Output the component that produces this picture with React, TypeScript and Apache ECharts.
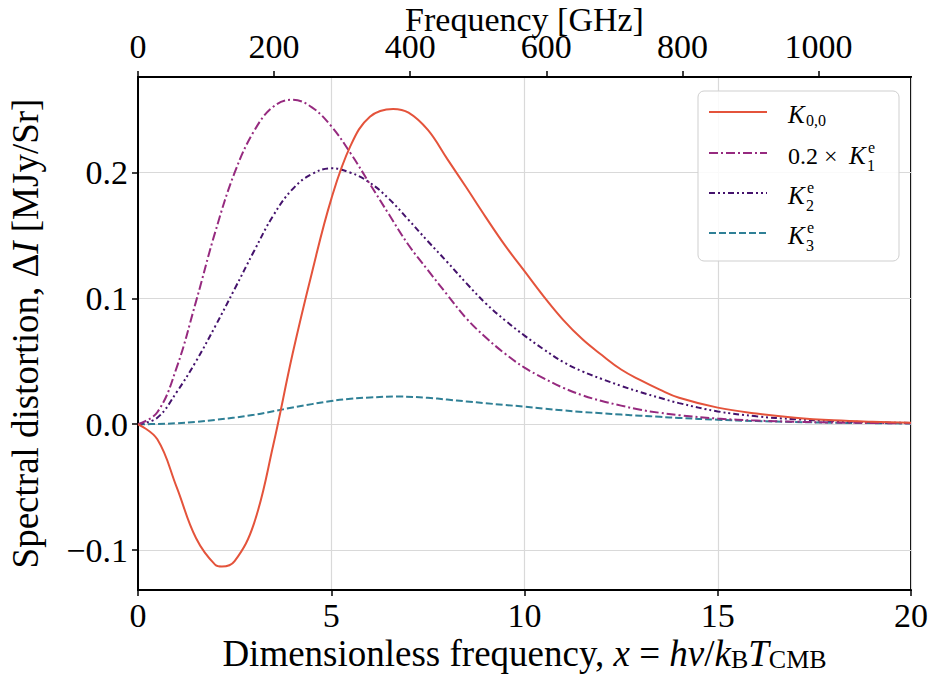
import React, { useEffect, useRef } from 'react';
import * as echarts from 'echarts';

// ---- data ----
const k00X = [0, 0.5, 1, 1.5, 2, 2.17, 2.5, 3, 3.5, 4, 4.5, 5, 5.5, 6, 6.6, 7, 7.5, 8, 8.5, 9, 9.5, 10, 10.5, 11, 11.5, 12, 12.5, 13, 13.5, 14, 15, 16, 17, 18, 19, 20];
const k00Y = [0, -0.012, -0.05, -0.0905, -0.1118, -0.1132, -0.1088, -0.079, -0.0165, 0.056, 0.1205, 0.179, 0.2215, 0.2445, 0.2507, 0.2478, 0.234, 0.211, 0.188, 0.1645, 0.142, 0.1217, 0.1015, 0.083, 0.0675, 0.055, 0.0435, 0.035, 0.0275, 0.021, 0.0132, 0.0085, 0.0052, 0.0031, 0.0019, 0.0012];

const k1X = [0, 0.5, 1, 1.5, 2, 2.5, 3, 3.5, 4, 4.5, 5, 5.5, 6, 6.5, 7, 7.5, 8, 8.5, 9, 9.5, 10, 10.5, 11, 11.5, 12, 12.5, 13, 13.5, 14, 15, 16, 17, 18, 19, 20];
const k1Y = [0, 0.0095, 0.045, 0.0975, 0.153, 0.2, 0.233, 0.2525, 0.258, 0.252, 0.237, 0.2155, 0.191, 0.1665, 0.1425, 0.1225, 0.103, 0.084, 0.069, 0.056, 0.045, 0.0365, 0.029, 0.023, 0.0185, 0.0148, 0.0115, 0.0091, 0.0072, 0.0045, 0.0029, 0.002, 0.0014, 0.001, 0.0007];

const k2X = [0, 0.5, 1, 1.5, 2, 2.5, 3, 3.5, 4, 4.5, 5, 5.5, 6, 6.5, 7, 7.5, 8, 8.5, 9, 9.5, 10, 10.5, 11, 11.5, 12, 12.5, 13, 13.5, 14, 15, 16, 17, 18, 19, 20];
const k2Y = [0, 0.0052, 0.0255, 0.05, 0.078, 0.1075, 0.1375, 0.166, 0.187, 0.199, 0.2035, 0.2, 0.192, 0.179, 0.1625, 0.1455, 0.129, 0.112, 0.096, 0.0825, 0.0705, 0.0595, 0.0495, 0.042, 0.036, 0.0305, 0.0255, 0.021, 0.0168, 0.0102, 0.0063, 0.004, 0.0025, 0.0016, 0.001];

const k3X = [0, 0.5, 1, 1.5, 2, 2.5, 3, 3.5, 4, 4.5, 5, 5.5, 6, 6.7, 7.5, 8, 8.5, 9, 9.5, 10, 10.5, 11, 11.5, 12, 12.5, 13, 13.5, 14, 15, 16, 17, 18, 19, 20];
const k3Y = [0, 0.0002, 0.0008, 0.0019, 0.0035, 0.0053, 0.0075, 0.0103, 0.0133, 0.016, 0.0185, 0.0202, 0.0213, 0.022, 0.021, 0.0196, 0.0181, 0.0167, 0.0153, 0.014, 0.0124, 0.011, 0.0098, 0.0087, 0.0077, 0.0068, 0.0059, 0.005, 0.0036, 0.0025, 0.0018, 0.0012, 0.0009, 0.0006];

const xTicks = [0, 5, 10, 15, 20];
const yTicks = [-0.1, 0, 0.1, 0.2];
const freqTicks = [0, 200, 400, 600, 800, 1000];
const GHZ_PER_X = 56.79;

const seriesNames = ['K_{0,0}', '0.2 × K_1^e', 'K_2^e', 'K_3^e'];
const legendPre = ['', '0.2 ×', '', ''];
const legendSub = ['0,0', '1', '2', '3'];
const legendSup = ['', 'e', 'e', 'e'];

const FONT = '"Liberation Serif", "Times New Roman", serif';
const COLORS = ['#e4533b', '#962a7f', '#44126c', '#2f8096'];
const DASHES: any[] = ['solid', [9, 3, 2, 3], [6, 3, 2, 3, 2, 3], [7, 3]];

const zip = (xs: number[], ys: number[]) => xs.map((x, i) => [x, ys[i]]);

export default function App() {
  const ref = useRef<HTMLDivElement>(null);
  useEffect(() => {
    const chart = echarts.init(ref.current!, null, { renderer: 'svg' });
    const datasets = [zip(k00X, k00Y), zip(k1X, k1Y), zip(k2X, k2Y), zip(k3X, k3Y)];

    const rowY = [112, 153, 193, 233];
    const legendX0 = 709;
    const legendX1 = 767;
    const textX = 788;
    const legendGraphics: any[] = [
      {
        type: 'rect',
        shape: { x: 698, y: 91, width: 201, height: 170, r: 6 },
        style: { fill: 'rgba(255,255,255,0.85)', stroke: '#cfcfcf', lineWidth: 1 },
        z: 100,
      },
    ];
    rowY.forEach((yc, i) => {
      legendGraphics.push({
        type: 'line',
        shape: { x1: legendX0, y1: yc, x2: legendX1, y2: yc },
        style: {
          stroke: COLORS[i],
          lineWidth: 2,
          lineDash: DASHES[i] === 'solid' ? null : DASHES[i],
        },
        z: 101,
      });
      let kx = textX;
      if (legendPre[i]) {
        legendGraphics.push({
          type: 'text',
          x: textX,
          y: yc + 2.5,
          style: { text: legendPre[i], fontSize: 24, fontFamily: FONT, fill: '#000', verticalAlign: 'middle', align: 'left' },
          z: 101,
        });
        kx = 849;
      }
      legendGraphics.push({
        type: 'text',
        x: kx,
        y: yc + 2.5,
        style: { text: 'K', fontSize: 25, fontStyle: 'italic', fontFamily: FONT, fill: '#000', verticalAlign: 'middle', align: 'left' },
        z: 101,
      });
      if (legendSup[i]) {
        legendGraphics.push({
          type: 'text',
          x: kx + 19,
          y: yc - 6,
          style: { text: legendSup[i], fontSize: 16, fontFamily: FONT, fill: '#000', verticalAlign: 'middle', align: 'left' },
          z: 101,
        });
      }
      legendGraphics.push({
        type: 'text',
        x: kx + 18,
        y: legendSup[i] ? yc + 12.5 : yc + 8.5,
        style: { text: legendSub[i], fontSize: 16, fontFamily: FONT, fill: '#000', verticalAlign: 'middle', align: 'left' },
        z: 101,
      });
    });

    const richMain = { fontSize: 37, fontFamily: FONT, color: '#000', lineHeight: 42, verticalAlign: 'bottom' };
    const richIt = { ...richMain, fontStyle: 'italic' };
    const richSub = { fontSize: 26, fontFamily: FONT, color: '#000', lineHeight: 26, verticalAlign: 'bottom' };

    const option: any = {
      animation: false,
      backgroundColor: '#fff',
      grid: {
        left: 138,
        right: 22,
        top: 77,
        bottom: 94,
        show: true,
        borderColor: '#000',
        borderWidth: 2,
        backgroundColor: 'transparent',
        containLabel: false,
        outerBoundsMode: 'none',
      },
      xAxis: [
        {
          type: 'value',
          position: 'bottom',
          min: 0,
          max: 20,
          interval: 5,
          name: '{t|Dimensionless frequency, }{i|x}{t| = }{i|hν}{t|/}{i|k}{s|B}{i|T}{s|CMB}',
          nameLocation: 'middle',
          nameGap: 40,
          nameMoveOverlap: false,
          nameTextStyle: { rich: { t: richMain, i: richIt, s: richSub } },
          axisLine: { show: true, onZero: false, lineStyle: { color: '#000', width: 2 } },
          axisTick: { show: true, inside: false, length: 6, lineStyle: { color: '#000', width: 1.5 }, customValues: xTicks },
          axisLabel: { fontSize: 34, fontFamily: FONT, color: '#000', margin: 8, customValues: xTicks, formatter: (v: number) => String(v) },
          splitLine: { show: true, lineStyle: { color: '#d9d9d9', width: 1.2 } },
        },
        {
          type: 'value',
          position: 'top',
          min: 0,
          max: 20 * GHZ_PER_X,
          interval: 200,
          name: 'Frequency [GHz]',
          nameLocation: 'middle',
          nameGap: 44,
          nameMoveOverlap: false,
          nameTextStyle: { fontSize: 34, fontFamily: FONT, color: '#000', lineHeight: 28 },
          axisLine: { show: true, onZero: false, lineStyle: { color: '#000', width: 2 } },
          axisTick: { show: true, inside: false, length: 6, lineStyle: { color: '#000', width: 1.5 }, customValues: freqTicks },
          axisLabel: { fontSize: 34, fontFamily: FONT, color: '#000', margin: 19, lineHeight: 24, customValues: freqTicks, formatter: (v: number) => String(Math.round(v)) },
          splitLine: { show: false },
        },
      ],
      yAxis: {
        type: 'value',
        min: -0.1318,
        max: 0.2761,
        name: '{t|Spectral distortion, Δ}{i|I}{t| [MJy/Sr]}',
        nameLocation: 'middle',
        nameGap: 94,
        nameRotate: 90,
        nameMoveOverlap: false,
        nameTextStyle: { rich: { t: richMain, i: richIt } },
        axisLine: { show: true, onZero: false, lineStyle: { color: '#000', width: 2 } },
        axisTick: { show: true, inside: false, length: 6, lineStyle: { color: '#000', width: 1.5 }, customValues: yTicks },
        axisLabel: {
          fontSize: 34,
          fontFamily: FONT,
          color: '#000',
          margin: 10,
          customValues: yTicks,
          formatter: (v: number) => (v < -1e-9 ? '−' + Math.abs(v).toFixed(1) : Math.abs(v).toFixed(1)),
        },
        splitLine: { show: true, lineStyle: { color: '#d9d9d9', width: 1.2 } },
      },
      series: datasets.map((d, i) => ({
        name: seriesNames[i],
        type: 'line',
        xAxisIndex: 0,
        yAxisIndex: 0,
        data: d,
        showSymbol: false,
        symbol: 'none',
        smooth: 0.4,
        lineStyle: { color: COLORS[i], width: 2, type: DASHES[i] },
        z: 10 - i,
      })),
      graphic: legendGraphics,
    };
    chart.setOption(option);
    return () => chart.dispose();
  }, []);
  return (
    <div
      ref={ref}
      style={{ position: 'fixed', left: 0, top: 0, width: 933, height: 684, background: '#fff' }}
    />
  );
}
